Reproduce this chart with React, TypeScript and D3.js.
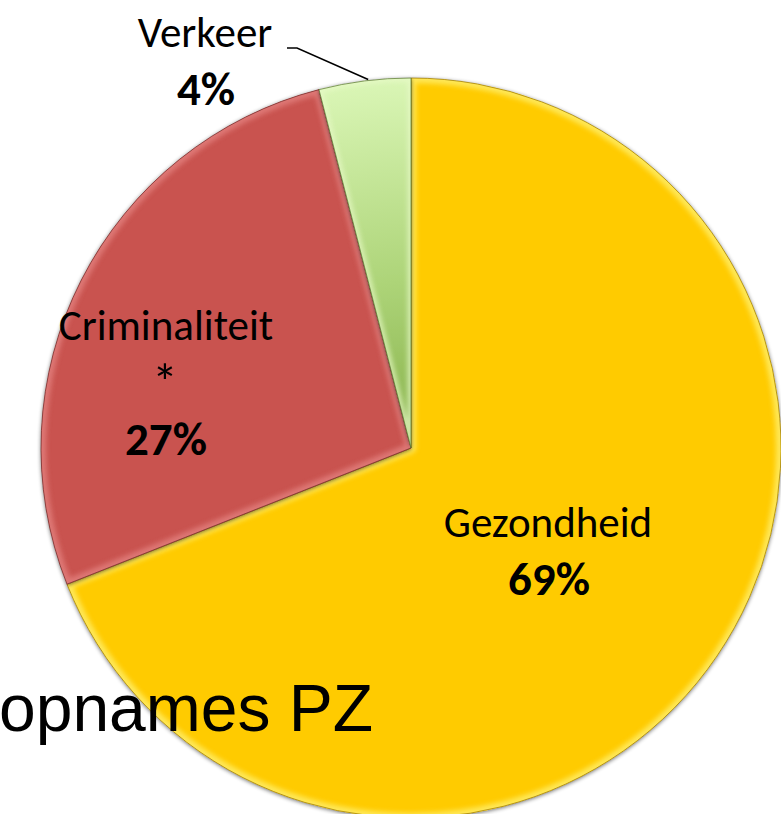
import React, { useEffect, useRef } from "react";
import * as d3 from "d3";

// slice data, clockwise from 12 o'clock
const categories = ["Gezondheid", "Criminaliteit", "Verkeer"];
const values = [69, 27, 4];
const labelNames = ["Gezondheid", "Criminaliteit\n*", "Verkeer"];
const percentLabels = ["69%", "27%", "4%"];

const W = 781, H = 814;

const App = () => {
  const ref = useRef<SVGSVGElement | null>(null);

  useEffect(() => {
    draw(ref.current);
  }, []);

  return (
    <svg
      ref={ref}
      width={W}
      height={H}
      style={{ position: "absolute", left: 0, top: 0, background: "#fff" }}
    />
  );
};

const draw = (el: SVGSVGElement | null) => {
  if (!el) return;
  const svg = d3.select(el);
  svg.selectAll("*").remove();

  const cx = 411, cy = 448, r = 370;
  const fills = ["#FFCB05", "#C9524F", "url(#greenGrad)"];
  const bevels = ["#FFEB60", "#E07C79", "#E8FAC8"];
  const edges = ["#9A7800", "#6E2826", "#55742C"];

  const defs = svg.append("defs");
  // gradient lives in the translated group's space, so centre is 0,0
  const gg = defs.append("radialGradient")
    .attr("id", "greenGrad")
    .attr("gradientUnits", "userSpaceOnUse")
    .attr("cx", 0).attr("cy", 0).attr("r", r);
  gg.append("stop").attr("offset", "0%").attr("stop-color", "#86B04A");
  gg.append("stop").attr("offset", "45%").attr("stop-color", "#ADD478");
  gg.append("stop").attr("offset", "100%").attr("stop-color", "#DAF6B6");

  const blur = defs.append("filter").attr("id", "soft")
    .attr("x", "-10%").attr("y", "-10%").attr("width", "120%").attr("height", "120%");
  blur.append("feGaussianBlur").attr("stdDeviation", 2.5);

  const shadow = defs.append("filter").attr("id", "shadow")
    .attr("x", "-10%").attr("y", "-10%").attr("width", "120%").attr("height", "120%");
  shadow.append("feGaussianBlur").attr("in", "SourceAlpha").attr("stdDeviation", 2);
  shadow.append("feOffset").attr("dx", 0).attr("dy", 1).attr("result", "b");
  shadow.append("feComponentTransfer").append("feFuncA").attr("type", "linear").attr("slope", 0.6);
  const merge = shadow.append("feMerge");
  merge.append("feMergeNode");
  merge.append("feMergeNode").attr("in", "SourceGraphic");

  const pie = d3.pie<number>().sort(null).value((d) => d);
  const arcs = pie(values);
  const arc = d3.arc<d3.PieArcDatum<number>>().innerRadius(0).outerRadius(r);

  const g = svg.append("g").attr("transform", `translate(${cx},${cy})`);

  arcs.forEach((a, i) => {
    defs.append("clipPath").attr("id", `clip${i}`)
      .append("path").attr("d", arc(a) as string);
  });

  const slices = g.selectAll("g.slice").data(arcs).join("g").attr("class", "slice");

  slices.append("path")
    .attr("d", (d) => arc(d) as string)
    .attr("fill", (d, i) => fills[i])
    .attr("filter", "url(#shadow)");

  // bevel highlight along slice edges
  slices.append("g")
    .attr("clip-path", (d, i) => `url(#clip${i})`)
    .append("path")
    .attr("d", (d) => arc(d) as string)
    .attr("fill", "none")
    .attr("stroke", (d, i) => bevels[i])
    .attr("stroke-width", (d, i) => (i === 2 ? 7 : 10))
    .attr("stroke-linejoin", "round")
    .attr("filter", "url(#soft)")
    .attr("opacity", (d, i) => (i === 2 ? 0.7 : 0.9));

  slices.append("path")
    .attr("d", (d) => arc(d) as string)
    .attr("fill", "none")
    .attr("stroke", (d, i) => edges[i])
    .attr("stroke-width", 1)
    .attr("stroke-opacity", 0.7);

  const font = "Carlito, Calibri, 'Open Sans', sans-serif";

  const t = svg.append("g").attr("font-family", font).attr("fill", "#000").attr("text-anchor", "middle");

  // Gezondheid
  t.append("text").attr("x", 548).attr("y", 537).attr("font-size", 43).text(labelNames[0]);
  t.append("text").attr("x", 549).attr("y", 595).attr("font-size", 47).attr("font-weight", "bold").text(percentLabels[0]);

  // Criminaliteit
  const [critName, star] = labelNames[1].split("\n");
  t.append("text").attr("x", 166).attr("y", 340).attr("font-size", 43).text(critName);
  t.append("text").attr("x", 165).attr("y", 400).attr("font-size", 52).text(star);
  t.append("text").attr("x", 166).attr("y", 455).attr("font-size", 47).attr("font-weight", "bold").text(percentLabels[1]);

  // Verkeer with leader line
  t.append("text").attr("x", 205).attr("y", 47).attr("font-size", 43).text(labelNames[2]);
  t.append("text").attr("x", 206).attr("y", 105).attr("font-size", 47).attr("font-weight", "bold").text(percentLabels[2]);
  const v = arcs[2];
  const ang = (v.startAngle + v.endAngle) / 2 + 0.01;
  const ex = cx + Math.sin(ang) * (r + 1);
  const ey = cy - Math.cos(ang) * (r + 1);
  svg.append("path")
    .attr("d", d3.line()([[287, 48], [297, 48], [ex, ey]]))
    .attr("fill", "none")
    .attr("stroke", "#000")
    .attr("stroke-width", 1.5);

  // partial title overlapping the pie
  svg.append("text")
    .attr("x", -1).attr("y", 731)
    .attr("font-family", "'Liberation Sans', Arial, sans-serif")
    .attr("font-size", 66)
    .attr("fill", "#000")
    .text("opnames PZ");
};

export default App;
